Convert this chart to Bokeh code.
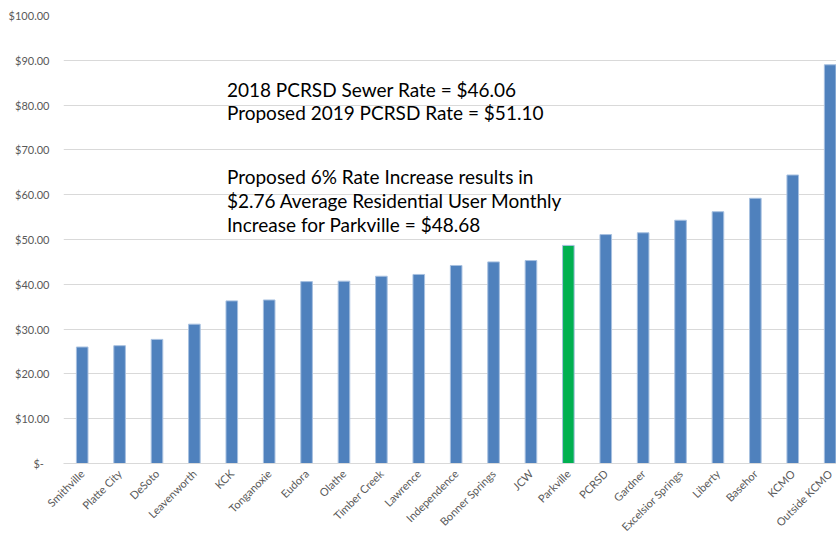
from bokeh.plotting import figure
from bokeh.models import Range1d, FixedTicker, ColumnDataSource, Label
from bokeh.embed import file_html
from bokeh.resources import INLINE
import math

# ---- data ----
cities = ["Smithville", "Platte City", "DeSoto", "Leavenworth", "KCK", "Tonganoxie",
          "Eudora", "Olathe", "Timber Creek", "Lawrence", "Independence", "Bonner Springs",
          "JCW", "Parkville", "PCRSD", "Gardner", "Excelsior Springs", "Liberty",
          "Basehor", "KCMO", "Outside KCMO"]
rates = [26.0, 26.3, 27.7, 31.1, 36.3, 36.5, 40.6, 40.7, 41.8, 42.2, 44.2, 45.0,
         45.3, 48.68, 51.10, 51.5, 54.3, 56.2, 59.2, 64.4, 89.0]
highlight = "Parkville"
y_ticks = [0, 10, 20, 30, 40, 50, 60, 70, 80, 90, 100]
y_tick_labels = ["$-\u00a0\u00a0", "$10.00", "$20.00", "$30.00", "$40.00", "$50.00",
                 "$60.00", "$70.00", "$80.00", "$90.00", "$100.00"]
notes = ["2018 PCRSD Sewer Rate = $46.06",
         "Proposed 2019 PCRSD Rate = $51.10",
         "Proposed 6% Rate Increase results in",
         "$2.76 Average Residential User Monthly",
         "Increase for Parkville = $48.68"]
note_y = [83.5, 78.4, 64.1, 58.7, 53.3]

BLUE = "#4F81BD"
GREEN = "#00B050"
FONT = "Lato"

xs = list(range(len(cities)))
colors = [GREEN if c == highlight else BLUE for c in cities]
src = ColumnDataSource(dict(x=xs, top=rates, color=colors))

p = figure(width=836, height=540, output_backend="svg", toolbar_location=None,
           x_range=Range1d(-0.5, 20.17), y_range=Range1d(0, 100),
           min_border_left=63, min_border_right=0, min_border_top=15, min_border_bottom=74)
p.outline_line_color = None
p.background_fill_color = "white"

p.vbar(x="x", top="top", width=0.31, source=src, fill_color="color",
       line_color="#A7C0E0", line_width=1)

# y axis
p.yaxis.ticker = FixedTicker(ticks=y_ticks)
p.yaxis.major_label_overrides = {t: l for t, l in zip(y_ticks, y_tick_labels)}
p.yaxis.axis_line_color = None
p.yaxis.major_tick_line_color = None
p.yaxis.minor_tick_line_color = None
p.yaxis.major_tick_out = 0
p.yaxis.major_label_standoff = 14
p.yaxis.major_label_text_font = FONT
p.yaxis.major_label_text_font_size = "11px"
p.yaxis.major_label_text_color = "#595959"

# x axis
p.xaxis.ticker = FixedTicker(ticks=xs)
p.xaxis.major_label_overrides = {i: c for i, c in zip(xs, cities)}
p.xaxis.major_label_orientation = math.pi / 4
p.xaxis.axis_line_color = "#D9D9D9"
p.xaxis.major_tick_line_color = None
p.xaxis.minor_tick_line_color = None
p.xaxis.major_tick_out = 0
p.xaxis.major_label_standoff = 8
p.xaxis.major_label_text_font = FONT
p.xaxis.major_label_text_font_size = "11px"
p.xaxis.major_label_text_color = "#595959"

p.xgrid.grid_line_color = None
p.ygrid.ticker = FixedTicker(ticks=y_ticks)
p.ygrid.grid_line_color = "#D9D9D9"
p.ygrid.grid_line_width = 1

for t, yv in zip(notes, note_y):
    p.add_layout(Label(x=3.87, y=yv, text=t, text_font=FONT, text_font_size="19px",
                       text_color="#000000", text_baseline="alphabetic", text_align="left"))

open("out.html", "w").write(file_html(p, INLINE))
